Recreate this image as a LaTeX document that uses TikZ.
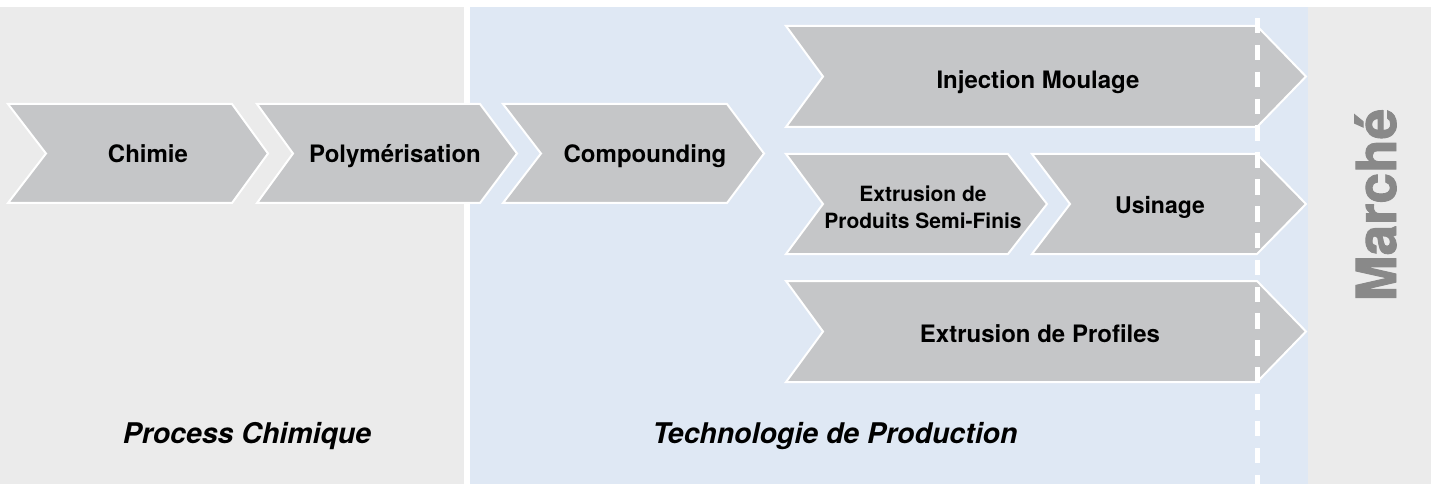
\documentclass[tikz,border=0pt]{standalone}
\usepackage{fontspec}
\setmainfont{TeX Gyre Heros}
\newfontfamily\heavyfont[FakeBold=1.7]{TeX Gyre Heros}
\definecolor{panelgray}{RGB}{235,235,235}
\definecolor{panelblue}{RGB}{223,232,244}
\definecolor{chevgray}{RGB}{197,198,200}
\definecolor{marketgray}{RGB}{137,137,137}
\begin{document}
\begin{tikzpicture}[x=1pt,y=-1pt,
  chev/.style={fill=chevgray, draw=white, line width=2pt, line join=miter},
  lbl/.style={anchor=base, inner sep=0pt, font=\fontsize{24}{26}\selectfont\bfseries},
  lbltwo/.style={anchor=base, inner sep=0pt, align=center, font=\fontsize{21}{26}\selectfont\bfseries},
  zone/.style={anchor=base, inner sep=0pt, font=\fontsize{28.5}{32}\selectfont\bfseries\itshape},
  market/.style={anchor=base, inner sep=0pt, rotate=90, text=marketgray, font=\fontsize{55}{60}\selectfont\heavyfont\bfseries},
  limit/.style={draw=white, line width=5pt, dash pattern=on 15.5pt off 11.36pt}]
\useasboundingbox (0,0) rectangle (1436,484);

% background zones
\fill[panelgray] (0,7) rectangle (464,484);
\fill[panelblue] (470,7) rectangle (1308,484);
\fill[panelgray] (1308,7) rectangle (1431,484);

% main chain
\draw[chev] (8,104) -- (232,104) -- (268,153.5) -- (232,203) -- (8,203) -- (46,153.5) -- cycle;
\draw[chev] (257,104) -- (480,104) -- (517,153.5) -- (480,203) -- (257,203) -- (293,153.5) -- cycle;
\draw[chev] (503,104) -- (727,104) -- (764,153.5) -- (727,203) -- (503,203) -- (541,153.5) -- cycle;

% production branches
\draw[chev] (786,26) -- (1257,26) -- (1306,76.5) -- (1257,127) -- (786,127) -- (823,76.5) -- cycle;
\draw[chev] (786,154) -- (1008,154) -- (1047,204) -- (1008,254) -- (786,254) -- (823,204) -- cycle;
\draw[chev] (1032,154) -- (1257,154) -- (1306,204) -- (1257,254) -- (1032,254) -- (1070,204) -- cycle;
\draw[chev] (786,281) -- (1257,281) -- (1306,331.5) -- (1257,382) -- (786,382) -- (823,331.5) -- cycle;

% market boundary
\coordinate (limtop) at (1257,18);
\coordinate (limbot) at (1257,484);
\draw[limit] (limtop) -- (limbot);

% labels
\node[lbl] (chimie) at (148,162.5) {Chimie};
\node[lbl] (poly) at (395,162.5) {Polymérisation};
\node[lbl] (comp) at (645,162.5) {Compounding};
\node[lbl] (inj) at (1038,89) {Injection Moulage};
\node[lbltwo] (semi) at (923,228) {Extrusion de\\Produits Semi-Finis};
\node[lbl, font=\fontsize{23}{26}\selectfont\bfseries] (usin) at (1160,213) {Usinage};
\node[lbl] (prof) at (1040,342) {Extrusion de Profiles};

\node[zone] (chem) at (247,443) {Process Chimique};
\node[zone] (prod) at (835,443) {Technologie de Production};
\node[market] (marche) at (1396,205) {Marché};
\end{tikzpicture}
\end{document}
